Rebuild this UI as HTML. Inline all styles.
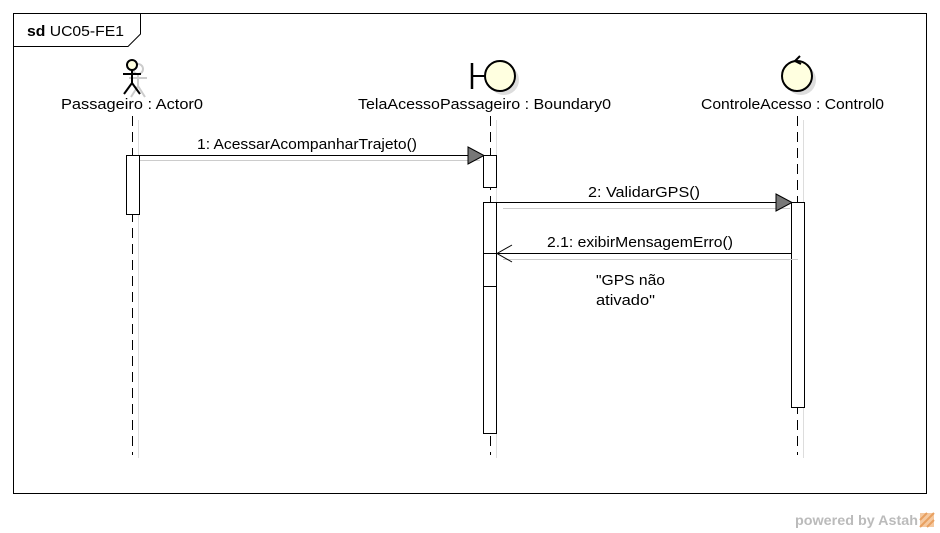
<!DOCTYPE html>
<html><head><meta charset="utf-8"><style>
body{margin:0;background:#fff;}
svg{display:block;font-family:"Liberation Sans",sans-serif;}
</style></head><body>
<svg width="940" height="533" viewBox="0 0 940 533" xmlns="http://www.w3.org/2000/svg">
<rect x="0" y="0" width="940" height="533" fill="#fff"/>
<rect x="13.5" y="13.5" width="913" height="480" fill="none" stroke="#000" stroke-width="1"/>
<path d="M13.5 46.5 H128 L140.5 34 V13.5" fill="none" stroke="#000"/>
<text x="27" y="36" font-size="15" textLength="97" lengthAdjust="spacingAndGlyphs"><tspan font-weight="bold">sd</tspan> UC05-FE1</text>

<g stroke="#ddd" stroke-width="1">
<line x1="138.5" y1="120" x2="138.5" y2="458"/>
<line x1="496.5" y1="120" x2="496.5" y2="458"/>
<line x1="803.5" y1="120" x2="803.5" y2="458"/>
</g>
<g stroke="#000" stroke-dasharray="10,6">
<line x1="132.5" y1="116" x2="132.5" y2="455"/>
<line x1="490.5" y1="116" x2="490.5" y2="455"/>
<line x1="797.5" y1="116" x2="797.5" y2="455"/>
</g>

<g stroke="#ccc" stroke-width="2" fill="none">
<circle cx="138" cy="69" r="5"/><line x1="138" y1="74" x2="138" y2="86"/><line x1="129" y1="78" x2="147" y2="78"/><line x1="138" y1="86" x2="131" y2="97"/><line x1="138" y1="86" x2="145" y2="97"/>
</g>
<g stroke="#000" stroke-width="2" fill="none">
<circle cx="132" cy="65" r="5" fill="#ffffe0"/><line x1="132" y1="70" x2="132" y2="83"/><line x1="123" y1="74" x2="141" y2="74"/><line x1="132" y1="83" x2="124" y2="94"/><line x1="132" y1="83" x2="140" y2="94"/>
</g>
<text x="61" y="109" font-size="15" textLength="142" lengthAdjust="spacingAndGlyphs">Passageiro : Actor0</text>

<circle cx="504" cy="80" r="15" fill="#ddd"/>
<circle cx="500" cy="76" r="15" fill="#ffffe0" stroke="#000" stroke-width="2"/>
<line x1="472" y1="63" x2="472" y2="89" stroke="#000" stroke-width="2.5"/>
<line x1="472" y1="76" x2="485" y2="76" stroke="#000" stroke-width="2"/>
<text x="358" y="109" font-size="15" textLength="253" lengthAdjust="spacingAndGlyphs">TelaAcessoPassageiro : Boundary0</text>

<circle cx="801" cy="80" r="15" fill="#ddd"/>
<circle cx="797" cy="76" r="15" fill="#ffffe0" stroke="#000" stroke-width="2"/>
<path d="M800 56 L795 61 L801 64" fill="none" stroke="#000" stroke-width="2"/>
<text x="701" y="109" font-size="15" textLength="183" lengthAdjust="spacingAndGlyphs">ControleAcesso : Control0</text>

<g fill="#fff" stroke="#000">
<rect x="126.5" y="155.5" width="13" height="59"/>
<rect x="483.5" y="155.5" width="13" height="32"/>
<rect x="483.5" y="202.5" width="13" height="231"/>
<rect x="791.5" y="202.5" width="13" height="205"/>
</g>
<line x1="484" y1="253.5" x2="496" y2="253.5" stroke="#000"/>
<line x1="484" y1="286.5" x2="496" y2="286.5" stroke="#000"/>

<line x1="140" y1="160.5" x2="480" y2="160.5" stroke="#ccc"/>
<line x1="139" y1="155.5" x2="470" y2="155.5" stroke="#000"/>
<polygon points="468,147 484,155.5 468,164" fill="#777" stroke="#000"/>
<text x="197" y="149" font-size="15" textLength="220" lengthAdjust="spacingAndGlyphs">1: AcessarAcompanharTrajeto()</text>

<line x1="503" y1="208.5" x2="790" y2="208.5" stroke="#ccc"/>
<line x1="497" y1="202.5" x2="778" y2="202.5" stroke="#000"/>
<polygon points="776,194 792,202.5 776,211" fill="#777" stroke="#000"/>
<text x="588" y="197" font-size="15" textLength="112" lengthAdjust="spacingAndGlyphs">2: ValidarGPS()</text>

<line x1="503" y1="259.5" x2="798" y2="259.5" stroke="#ccc"/>
<line x1="497" y1="253.5" x2="791" y2="253.5" stroke="#000"/>
<path d="M512 245 L497 253.5 L512 262" fill="none" stroke="#000"/>
<text x="547" y="247" font-size="15" textLength="186" lengthAdjust="spacingAndGlyphs">2.1: exibirMensagemErro()</text>
<text x="596" y="285" font-size="15" textLength="69" lengthAdjust="spacingAndGlyphs">"GPS não</text>
<text x="596" y="305" font-size="15" textLength="59" lengthAdjust="spacingAndGlyphs">ativado"</text>

<text x="795" y="525" font-size="14" font-weight="bold" fill="#bbb" textLength="123" lengthAdjust="spacingAndGlyphs">powered by Astah</text>
<rect x="920" y="513" width="14" height="14" fill="#f5c9a0"/>
<path d="M920 527 L934 513 M920 520 L927 513 M927 527 L934 520" stroke="#e8a060" stroke-width="2"/>
</svg>
</body></html>
